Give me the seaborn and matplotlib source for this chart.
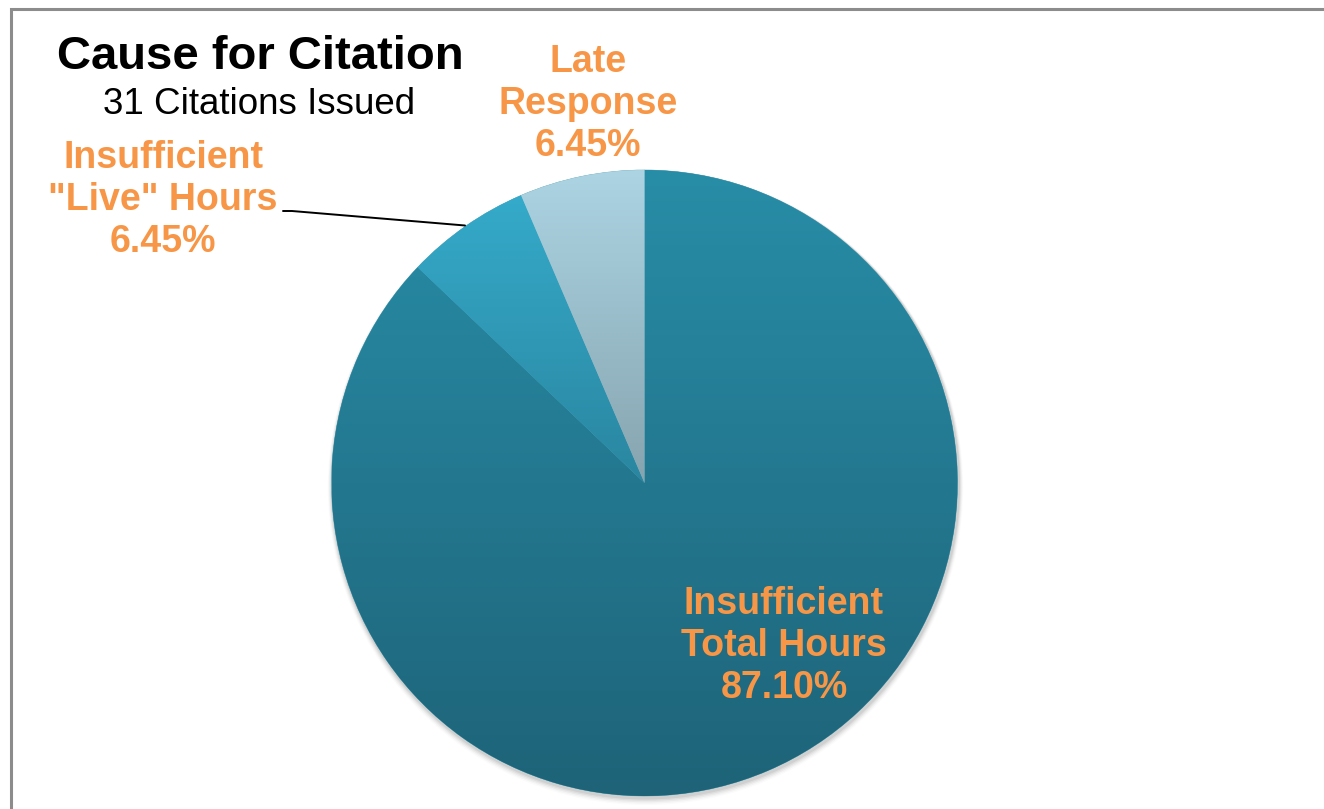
import numpy as np
import pandas as pd
import matplotlib
matplotlib.use("Agg")
import matplotlib.pyplot as plt
import seaborn as sns
from matplotlib.colors import LinearSegmentedColormap
from matplotlib.patches import Rectangle

# ---- data ----
categories = ["Insufficient\nTotal Hours", "Insufficient\n\"Live\" Hours", "Late\nResponse"]
counts = [27, 2, 2]
pct_labels = ["87.10%", "6.45%", "6.45%"]
title = "Cause for Citation"
subtitle = "31 Citations Issued"

# gradient colours (top -> bottom) for each slice
grad_top = ["#288DA7", "#35AACA", "#ACD4E3"]
grad_bot = ["#1E6378", "#2A86A0", "#86A4AF"]
label_color = "#F79646"

df = pd.DataFrame({"category": categories, "count": counts, "pct": pct_labels})

sns.set_theme(style="white")
plt.rcParams["font.family"] = ["Liberation Sans", "DejaVu Sans"]

W, H = 1324, 809
fig = plt.figure(figsize=(W / 100, H / 100), dpi=100)
ax = fig.add_axes([0, 0, 1, 1])

cx, cy, r = 644.5, H - 483, 313

wedges, _ = ax.pie(df["count"], startangle=90, counterclock=False,
                   center=(cx, cy), radius=r, frame=True,
                   colors=grad_top, wedgeprops=dict(linewidth=0.4, edgecolor="#5aa5b8", zorder=2))
ax.set_xlim(0, W)
ax.set_ylim(0, H)
ax.set_aspect("equal")
ax.axis("off")

# soft shadow
for i, a in enumerate(np.linspace(0.06, 0.015, 5)):
    sh = plt.Circle((cx + 1, cy - 2 - i * 0.6), r + 1.5 + i * 0.8, color="black", alpha=a, lw=0, zorder=1)
    ax.add_patch(sh)

# vertical gradients clipped to each wedge
renderer = fig.canvas.get_renderer()
inv = ax.transData.inverted()
for w, ct, cb in zip(wedges, grad_top, grad_bot):
    ext = w.get_window_extent(renderer)
    (dx0, dy0), (dx1, dy1) = inv.transform([[ext.x0, ext.y0], [ext.x1, ext.y1]])
    cmap = LinearSegmentedColormap.from_list("g", [cb, ct])
    grad = np.linspace(0, 1, 256).reshape(-1, 1)
    im = ax.imshow(grad, cmap=cmap, extent=(dx0, dx1, dy0, dy1), origin="lower",
                   aspect="auto", zorder=3, interpolation="bicubic")
    im.set_clip_path(w)

ax.set_xlim(0, W)
ax.set_ylim(0, H)
ax.set_aspect("equal")

# labels
lab_font = dict(color=label_color, fontsize=27, fontweight="bold", ha="center",
                va="center", linespacing=1.22, zorder=5)
ax.text(784, H - 646, categories[0] + "\n" + pct_labels[0], **lab_font)
ax.text(163, H - 200, categories[1] + "\n" + pct_labels[1], **lab_font)
ax.text(588, H - 104, categories[2] + "\n" + pct_labels[2], **lab_font)

# leader line
ax.plot([283, 292, 465], [H - 211, H - 211, H - 225.5], color="black", lw=1.4, zorder=5,
        solid_capstyle="round")

# title
ax.text(260, H - 57, title, fontsize=34, fontweight="bold", ha="center", va="center", color="black")
ax.text(259, H - 104, subtitle, fontsize=26.5, ha="center", va="center", color="black")

# frame
fig.patches.append(Rectangle((10.5 / W, -0.1), 1.2, (H - 9) / H + 0.1,
                             transform=fig.transFigure, fill=False,
                             edgecolor="#8c8c8c", lw=2.2, zorder=10))

fig.savefig("out.png", dpi=100, facecolor="white")
